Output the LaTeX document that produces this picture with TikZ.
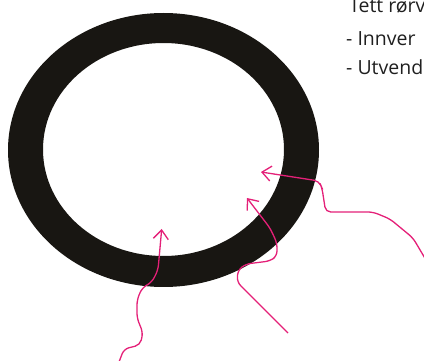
\documentclass[tikz,border=0pt]{standalone}
\usepackage{fontspec}
\setmainfont{Open Sans}
\usepackage{xcolor}
\usepackage{tikz}
\usetikzlibrary{arrows.meta}
\definecolor{ringblack}{RGB}{24,22,18}
\definecolor{accentpink}{RGB}{228,32,120}
\colorlet{notegray}{black!88}

\begin{document}
\begin{tikzpicture}[x=1pt, y=-1pt,
    pinkarrow/.style={draw=accentpink, line width=1.3pt, rounded corners=5pt,
      -{Straight Barb[length=9pt, width=15pt, line width=1.3pt]}},
    notetext/.style={anchor=base west, inner sep=0pt, text=notegray,
      font=\fontsize{19.5}{23}\selectfont}]
        \useasboundingbox (0,0) rectangle (424,361);
        \fill[ringblack, even odd rule] (163.5,150) ellipse (155.5 and 137)
              (163.5,149.5) ellipse (120.5 and 106.5);
        \node[notetext] (title) at (349,13) {Tett rørv};
        \node[notetext] (inner) at (346,46) {- Innver};
        \node[notetext] (outer) at (346,75) {- Utvend};
        \coordinate (tipA) at (261,172);
        \coordinate (tipB) at (247,198);
        \coordinate (tipC) at (161.7,229);
        \coordinate (endA) at (426,260);
        \coordinate (endB) at (288,333);
        \coordinate (endC) at (119,362);
        \draw[pinkarrow] (endA) -- (413,238) -- (390,219) -- (373,212)
              -- (325.7,212) -- (322,188) -- (319,181) -- (tipA);
        \draw[pinkarrow] (endB) -- (237,282) -- (238,270) -- (246,264)
              -- (270,261) -- (277,256) -- (277,243) -- (270,228) -- (tipB);
        \draw[pinkarrow] (endC) -- (124,349) -- (140,345) -- (143,333)
              -- (137,318) -- (137,300) -- (142,288) -- (152,282)
              -- (158,270) -- (tipC);
      \end{tikzpicture}
\end{document}
